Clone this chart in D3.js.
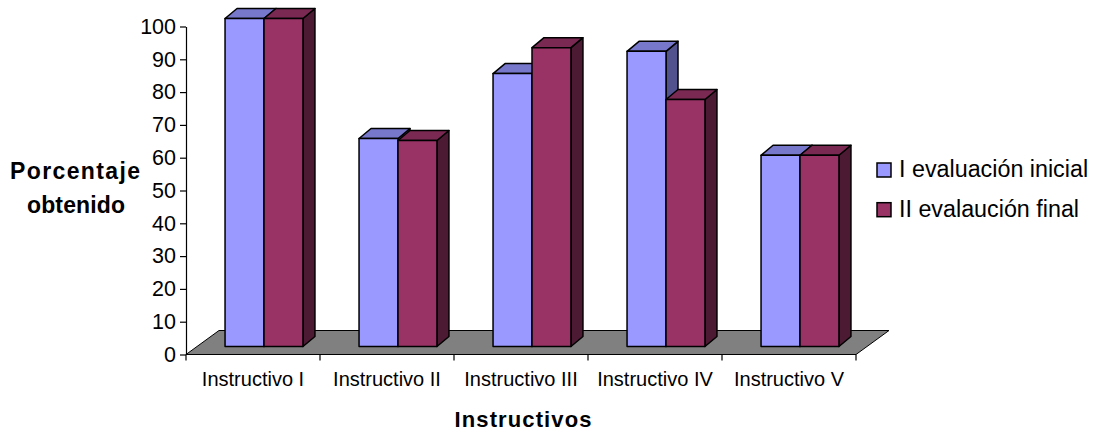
<!DOCTYPE html>
<html>
<head>
<meta charset="utf-8">
<script src="https://cdn.jsdelivr.net/npm/d3@7"></script>
<style>
  html, body { margin: 0; padding: 0; background: #fff; }
  svg { display: block; font-family: "Liberation Sans", Arial, sans-serif; }
</style>
</head>
<body>
<svg id="chart" width="1099" height="433"></svg>
<script>
// Data
const categories = ["Instructivo I", "Instructivo II", "Instructivo III", "Instructivo IV", "Instructivo V"];
const seriesNames = ["I evaluación inicial", "II evalaución final"];
const inicial = [100, 63.4, 83.2, 90, 58.3];
const final = [100, 62.8, 91.1, 75.3, 58.3];
const yTicks = [0, 10, 20, 30, 40, 50, 60, 70, 80, 90, 100];

// Face colours: front, top, side
const palette = [
  { front: "#9999ff", top: "#7777cc", side: "#52528f" },
  { front: "#993366", top: "#7a2952", side: "#4d1a33" }
];

const svg = d3.select("#chart");

// Plot frame (front plane of the 3D box)
const plotLeft = 186, plotRight = 856, plotTop = 26.5, plotBase = 354.5;
// Oblique depth offsets
const floorDepth = { dx: 33, dy: 24 };
const barFront = { dx: 11, dy: 8 };
const barBack = { dx: 23, dy: 18 };

const x0 = d3.scaleBand().domain(categories).range([plotLeft, plotRight]).paddingInner(0).paddingOuter(0);
const x1 = d3.scaleBand().domain([0, 1]).range([0, x0.bandwidth()]).paddingInner(0).paddingOuter(0.72);
const y = d3.scaleLinear().domain([0, 100]).range([plotBase, plotTop]);

const pt = (x, yy, o) => [x + o.dx, yy - o.dy];
const poly = pts => pts.map(p => p.join(",")).join(" ");

// Floor
svg.append("polygon")
  .attr("points", poly([
    [plotLeft, plotBase], [plotRight, plotBase],
    pt(plotRight, plotBase, floorDepth), pt(plotLeft, plotBase, floorDepth)
  ]))
  .attr("fill", "#808080")
  .attr("stroke", "#000")
  .attr("stroke-width", 1);

// Bars
const bars = [];
categories.forEach((c, i) => {
  [inicial[i], final[i]].forEach((v, s) => bars.push({ c, s, v }));
});

const g = svg.append("g");
bars.forEach(d => {
  const xl = x0(d.c) + x1(d.s);
  const xr = xl + x1.bandwidth();
  const yt = y(d.v), yb = y(0);
  const col = palette[d.s];
  const fBL = pt(xl, yb, barFront), fBR = pt(xr, yb, barFront);
  const fTL = pt(xl, yt, barFront), fTR = pt(xr, yt, barFront);
  const bTL = pt(xl, yt, barBack), bTR = pt(xr, yt, barBack), bBR = pt(xr, yb, barBack);
  const bar = g.append("g");
  bar.append("polygon").attr("points", poly([fTR, bTR, bBR, fBR]))
    .attr("fill", col.side).attr("stroke", "#000").attr("stroke-width", 1.5).attr("stroke-linejoin", "round");
  bar.append("polygon").attr("points", poly([fTL, fTR, bTR, bTL]))
    .attr("fill", col.top).attr("stroke", "#000").attr("stroke-width", 1.5).attr("stroke-linejoin", "round");
  bar.append("polygon").attr("points", poly([fTL, fTR, fBR, fBL]))
    .attr("fill", col.front).attr("stroke", "#000").attr("stroke-width", 1.5).attr("stroke-linejoin", "round");
});

// Y axis
const yAxis = svg.append("g")
  .attr("transform", `translate(${plotLeft},0)`)
  .call(d3.axisLeft(y).tickValues(yTicks).tickSize(6).tickSizeOuter(0).tickPadding(4));
yAxis.select(".domain").attr("stroke", "#000").attr("stroke-width", 1.2);
yAxis.selectAll(".tick line").attr("stroke", "#000").attr("stroke-width", 1.2);
yAxis.selectAll(".tick text")
  .attr("font-family", "'Liberation Sans', Arial, sans-serif")
  .attr("font-size", 21.5).attr("fill", "#000");

// X axis: ticks at category boundaries
const xAxisG = svg.append("g");
xAxisG.append("line")
  .attr("x1", plotLeft).attr("x2", plotRight).attr("y1", plotBase).attr("y2", plotBase)
  .attr("stroke", "#000").attr("stroke-width", 1.2);
const bounds = categories.map(c => x0(c)).concat([plotRight]);
xAxisG.selectAll("line.tick").data(bounds).enter().append("line")
  .attr("class", "tick")
  .attr("x1", d => d).attr("x2", d => d)
  .attr("y1", plotBase).attr("y2", plotBase + 6)
  .attr("stroke", "#000").attr("stroke-width", 1.2);
xAxisG.selectAll("text").data(categories).enter().append("text")
  .attr("x", d => x0(d) + x0.bandwidth() / 2)
  .attr("y", 386)
  .attr("text-anchor", "middle")
  .attr("font-size", 20)
  .attr("fill", "#000")
  .text(d => d);

// Axis titles
svg.append("text")
  .attr("x", 75).attr("y", 179)
  .attr("text-anchor", "middle")
  .attr("font-size", 23).attr("font-weight", "bold")
  .attr("textLength", 130).attr("lengthAdjust", "spacing")
  .text("Porcentaje");
svg.append("text")
  .attr("x", 76).attr("y", 213)
  .attr("text-anchor", "middle")
  .attr("font-size", 23).attr("font-weight", "bold")
  .attr("textLength", 98).attr("lengthAdjust", "spacing")
  .text("obtenido");
svg.append("text")
  .attr("x", 523).attr("y", 427)
  .attr("text-anchor", "middle")
  .attr("font-size", 22).attr("font-weight", "bold")
  .attr("textLength", 137).attr("lengthAdjust", "spacing")
  .text("Instructivos");

// Legend
const legend = svg.append("g");
seriesNames.forEach((name, i) => {
  const ly = 163 + i * 39.7;
  legend.append("rect")
    .attr("x", 877).attr("y", ly).attr("width", 14).attr("height", 14)
    .attr("fill", palette[i].front).attr("stroke", "#000").attr("stroke-width", 1.5);
  legend.append("text")
    .attr("x", 899).attr("y", ly + 14)
    .attr("font-size", 23.3).attr("fill", "#000")
    .text(name);
});
</script>
</body>
</html>
